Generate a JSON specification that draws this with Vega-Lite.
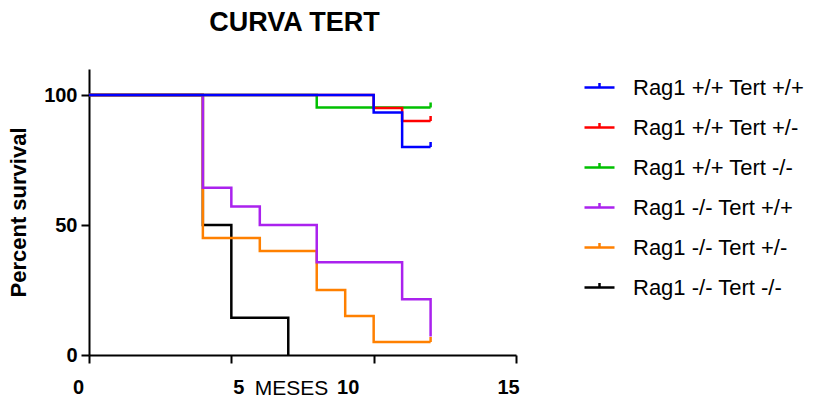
{
  "$schema": "https://vega.github.io/schema/vega-lite/v6.json",
  "width": 427,
  "height": 286,
  "autosize": {"type": "none"},
  "padding": {"left": 89, "top": 69, "right": 300, "bottom": 48},
  "background": "white",
  "config": {"view": {"stroke": null}, "font": "Liberation Sans"},
  "title": {
    "text": "CURVA TERT",
    "font": "Liberation Sans",
    "fontSize": 27,
    "fontWeight": "bold",
    "color": "black",
    "anchor": "middle",
    "baseline": "alphabetic",
    "offset": 37,
    "dx": -8,
    "dy": 26
  },
  "datasets": {
    "km": [
      {"g": "Rag1 -/- Tert -/-", "t": 0, "s": 100},
      {"g": "Rag1 -/- Tert -/-", "t": 4, "s": 50},
      {"g": "Rag1 -/- Tert -/-", "t": 5, "s": 14.3},
      {"g": "Rag1 -/- Tert -/-", "t": 7, "s": 0},
      {"g": "Rag1 -/- Tert +/-", "t": 0, "s": 100},
      {"g": "Rag1 -/- Tert +/-", "t": 4, "s": 45},
      {"g": "Rag1 -/- Tert +/-", "t": 6, "s": 40},
      {"g": "Rag1 -/- Tert +/-", "t": 8, "s": 25},
      {"g": "Rag1 -/- Tert +/-", "t": 9, "s": 15},
      {"g": "Rag1 -/- Tert +/-", "t": 10, "s": 5},
      {"g": "Rag1 -/- Tert +/-", "t": 12, "s": 5},
      {"g": "Rag1 -/- Tert +/+", "t": 0, "s": 100},
      {"g": "Rag1 -/- Tert +/+", "t": 4, "s": 64.3},
      {"g": "Rag1 -/- Tert +/+", "t": 5, "s": 57.1},
      {"g": "Rag1 -/- Tert +/+", "t": 6, "s": 50},
      {"g": "Rag1 -/- Tert +/+", "t": 8, "s": 35.7},
      {"g": "Rag1 -/- Tert +/+", "t": 11, "s": 21.4},
      {"g": "Rag1 -/- Tert +/+", "t": 12, "s": 7.1},
      {"g": "Rag1 +/+ Tert -/-", "t": 0, "s": 100},
      {"g": "Rag1 +/+ Tert -/-", "t": 8, "s": 95.2},
      {"g": "Rag1 +/+ Tert -/-", "t": 12, "s": 95.2},
      {"g": "Rag1 +/+ Tert +/-", "t": 0, "s": 100},
      {"g": "Rag1 +/+ Tert +/-", "t": 10, "s": 95},
      {"g": "Rag1 +/+ Tert +/-", "t": 11, "s": 90},
      {"g": "Rag1 +/+ Tert +/-", "t": 12, "s": 90},
      {"g": "Rag1 +/+ Tert +/+", "t": 0, "s": 100},
      {"g": "Rag1 +/+ Tert +/+", "t": 10, "s": 93.3},
      {"g": "Rag1 +/+ Tert +/+", "t": 11, "s": 80},
      {"g": "Rag1 +/+ Tert +/+", "t": 12, "s": 80}
    ],
    "cens": [
      {"g": "Rag1 -/- Tert +/-", "t": 12, "s": 5},
      {"g": "Rag1 +/+ Tert -/-", "t": 12, "s": 95.2},
      {"g": "Rag1 +/+ Tert +/-", "t": 12, "s": 90},
      {"g": "Rag1 +/+ Tert +/+", "t": 12, "s": 80}
    ]
  },
  "encoding": {
    "x": {
      "field": "t",
      "type": "quantitative",
      "scale": {"domain": [0, 15], "nice": false, "zero": false},
      "axis": {
        "values": [0, 5, 10, 15],
        "title": "MESES",
        "titleFont": "Liberation Sans",
        "titleFontSize": 21,
        "titleFontWeight": "normal",
        "titleColor": "black",
        "titleX": 202,
        "titleY": 33,
        "titleBaseline": "middle",
        "titleAlign": "center",
        "labelFont": "Liberation Sans",
        "labelFontSize": 20,
        "labelFontWeight": "bold",
        "labelColor": "black",
        "labelFlush": false,
        "labelOverlap": false,
        "labelPadding": 14,
        "labelOffset": {
          "condition": [
            {"test": "datum.value == 0", "value": -11},
            {"test": "datum.value == 5", "value": 7},
            {"test": "datum.value == 10", "value": -26}
          ],
          "value": -8
        },
        "domainColor": "black",
        "domainWidth": 2,
        "tickColor": "black",
        "tickWidth": 2,
        "tickSize": 8,
        "grid": false
      }
    },
    "y": {
      "field": "s",
      "type": "quantitative",
      "scale": {"domain": [0, 110], "nice": false},
      "axis": {
        "values": [0, 50, 100],
        "title": "Percent survival",
        "titleFont": "Liberation Sans",
        "titleFontSize": 22,
        "titleFontWeight": "bold",
        "titleColor": "black",
        "titleAngle": 270,
        "titleX": -71,
        "titleY": 143,
        "titleAlign": "center",
        "titleBaseline": "middle",
        "labelFont": "Liberation Sans",
        "labelFontSize": 20,
        "labelFontWeight": "bold",
        "labelColor": "black",
        "labelPadding": 4,
        "labelFlush": false,
        "domainColor": "black",
        "domainWidth": 2,
        "tickColor": "black",
        "tickWidth": 2,
        "tickSize": 8,
        "grid": false
      }
    }
  },
  "layer": [
    {
      "data": {"name": "km"},
      "mark": {"type": "line", "interpolate": "step-after", "strokeWidth": 2.5},
      "encoding": {
        "color": {
          "field": "g",
          "type": "nominal",
          "scale": {
            "domain": ["Rag1 +/+ Tert +/+", "Rag1 +/+ Tert +/-", "Rag1 +/+ Tert -/-", "Rag1 -/- Tert +/+", "Rag1 -/- Tert +/-", "Rag1 -/- Tert -/-"],
            "range": ["#0000FF", "#FF0000", "#00C000", "#AA22EE", "#FF8000", "#000000"]
          },
          "legend": {
            "orient": "none",
            "legendX": 494,
            "legendY": 2,
            "title": null,
            "symbolType": "M-1,0H1M0,0V-0.3",
            "symbolSize": 900,
            "symbolStrokeWidth": 2.5,
            "symbolFillColor": "transparent",
            "labelFont": "Liberation Sans",
            "labelFontSize": 22,
            "labelColor": "black",
            "labelOffset": 17,
            "labelLimit": 0,
            "rowPadding": 12
          }
        }
      }
    },
    {
      "data": {"name": "cens"},
      "mark": {"type": "point", "shape": "M0,0V-1", "size": 100, "strokeWidth": 2.5, "filled": false, "opacity": 1},
      "encoding": {
        "stroke": {
          "field": "g",
          "type": "nominal",
          "scale": {
            "domain": ["Rag1 +/+ Tert +/+", "Rag1 +/+ Tert +/-", "Rag1 +/+ Tert -/-", "Rag1 -/- Tert +/+", "Rag1 -/- Tert +/-", "Rag1 -/- Tert -/-"],
            "range": ["#0000FF", "#FF0000", "#00C000", "#AA22EE", "#FF8000", "#000000"]
          },
          "legend": null
        }
      }
    }
  ]
}
